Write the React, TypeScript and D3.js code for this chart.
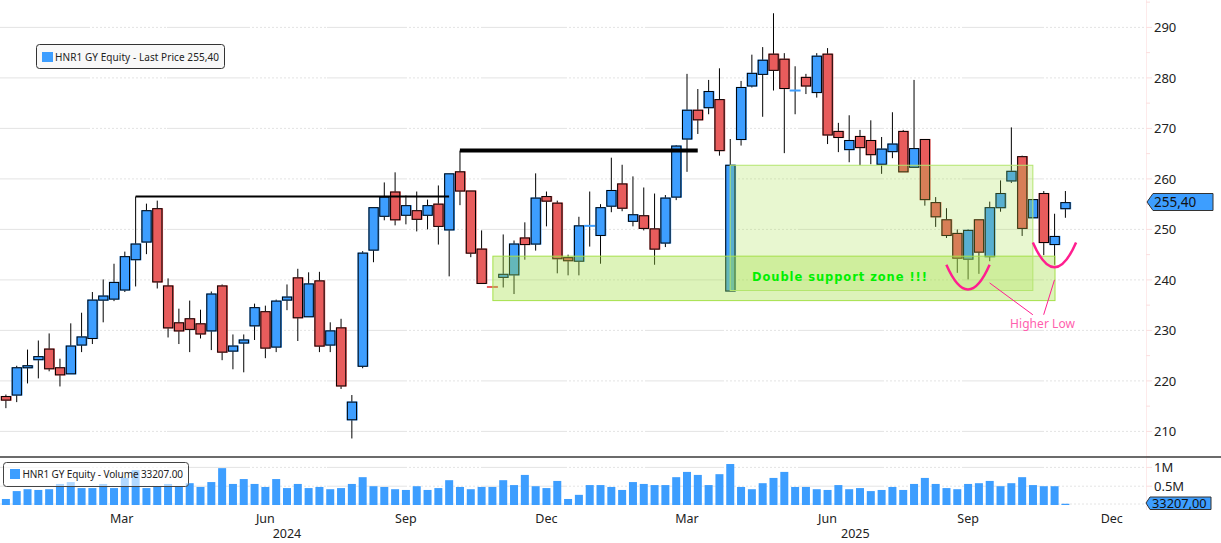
import * as d3 from 'd3';
import React from 'react';

const opens = [216.9, 217.2, 222.6, 224.2, 226.3, 222.6, 221.4, 227.1, 228.4, 236.0, 236.2, 238.0, 244.0, 247.5, 254.1, 238.8, 231.5, 232.3, 231.3, 229.9, 238.8, 225.9, 227.5, 230.9, 233.7, 226.7, 236.0, 240.4, 232.7, 239.8, 227.1, 230.5, 212.3, 222.9, 245.9, 252.6, 257.4, 252.8, 253.7, 252.8, 255.0, 249.9, 261.4, 257.6, 246.1, 238.7, 240.5, 241.0, 248.3, 247.1, 256.5, 255.2, 244.4, 243.7, 250.7, 248.8, 254.6, 259.0, 251.6, 252.7, 250.1, 247.3, 256.4, 267.9, 273.6, 274.1, 275.7, 237.8, 267.8, 278.4, 280.7, 284.7, 283.7, 277.5, 280.1, 277.1, 284.7, 269.4, 265.8, 268.4, 267.6, 262.9, 265.4, 269.4, 262.3, 267.8, 255.3, 251.9, 249.2, 244.1, 251.9, 244.6, 254.3, 259.6, 264.4, 252.3, 257.1, 247.0, 254.1];
const closes = [216.2, 222.6, 223.0, 224.8, 222.4, 221.2, 226.9, 228.7, 236.0, 236.8, 239.5, 244.6, 247.1, 253.7, 239.6, 230.5, 229.9, 230.2, 229.3, 237.2, 225.7, 226.9, 228.1, 234.5, 226.5, 235.8, 236.6, 232.5, 239.2, 226.9, 229.9, 219.0, 215.8, 245.3, 254.3, 256.4, 251.9, 254.7, 252.0, 254.7, 250.6, 261.0, 257.6, 245.3, 239.3, 238.6, 241.1, 247.1, 247.0, 256.2, 255.6, 244.2, 243.8, 250.7, 250.8, 254.3, 257.7, 254.2, 252.9, 250.2, 246.1, 256.2, 266.5, 273.6, 271.7, 277.3, 265.6, 262.7, 278.1, 280.9, 283.5, 281.5, 277.9, 277.6, 278.4, 284.3, 268.7, 268.2, 267.6, 266.2, 264.8, 265.9, 266.9, 261.4, 266.0, 255.9, 252.5, 248.8, 244.3, 249.8, 245.5, 254.3, 257.1, 261.5, 250.2, 255.9, 247.4, 248.6, 255.3];
const highs = [217.3, 223.0, 226.2, 228.0, 229.4, 224.4, 231.4, 233.5, 237.6, 240.1, 243.2, 245.6, 256.5, 255.1, 255.7, 240.3, 234.3, 235.9, 234.1, 237.7, 239.1, 229.2, 229.2, 235.3, 234.9, 236.1, 239.1, 242.2, 241.5, 241.6, 231.6, 232.3, 217.2, 245.7, 254.3, 259.3, 261.3, 256.7, 257.5, 255.9, 258.7, 261.0, 265.6, 257.6, 249.8, 238.7, 249.0, 247.8, 251.4, 261.1, 257.5, 255.7, 245.0, 252.5, 257.5, 255.0, 264.2, 262.8, 260.5, 258.3, 257.1, 256.8, 266.7, 280.8, 277.8, 279.6, 281.9, 267.9, 279.4, 284.6, 286.1, 292.8, 284.9, 282.3, 280.8, 284.9, 285.9, 271.1, 272.6, 269.7, 271.6, 268.3, 273.2, 269.7, 279.6, 267.8, 256.4, 254.2, 250.0, 250.0, 251.9, 255.5, 259.7, 270.2, 264.6, 255.9, 257.6, 253.1, 257.6];
const lows = [214.6, 215.8, 219.5, 220.5, 221.9, 218.9, 221.4, 225.7, 227.3, 231.6, 235.8, 237.6, 238.7, 245.1, 238.3, 228.6, 227.3, 225.7, 228.4, 226.1, 224.1, 222.3, 221.7, 228.1, 224.5, 225.7, 234.0, 227.9, 232.7, 225.7, 225.7, 218.4, 208.6, 222.5, 243.5, 251.8, 250.8, 251.0, 249.6, 250.0, 247.0, 240.7, 254.8, 244.5, 239.3, 238.5, 238.5, 237.2, 244.0, 245.8, 250.6, 241.3, 240.9, 240.9, 246.6, 243.2, 253.4, 253.6, 250.6, 249.8, 243.0, 246.5, 255.8, 261.4, 268.9, 272.8, 264.6, 237.8, 266.6, 278.1, 272.3, 277.5, 265.1, 272.8, 276.8, 276.1, 266.9, 265.3, 263.3, 262.7, 262.9, 261.0, 264.1, 261.4, 262.3, 254.7, 250.5, 248.3, 241.4, 240.1, 241.2, 243.7, 253.5, 259.2, 248.7, 252.3, 244.9, 243.0, 252.3];
const volumes = [0.16, 0.37, 0.42, 0.40, 0.42, 0.56, 0.61, 0.45, 0.45, 0.56, 0.45, 0.72, 0.93, 0.45, 0.48, 0.56, 0.48, 0.58, 0.48, 0.61, 0.98, 0.56, 0.69, 0.56, 0.48, 0.69, 0.45, 0.56, 0.45, 0.48, 0.42, 0.45, 0.56, 0.74, 0.50, 0.48, 0.42, 0.40, 0.50, 0.40, 0.45, 0.66, 0.48, 0.42, 0.48, 0.48, 0.66, 0.53, 0.80, 0.50, 0.45, 0.64, 0.16, 0.27, 0.53, 0.53, 0.48, 0.40, 0.61, 0.56, 0.53, 0.53, 0.74, 0.88, 0.80, 0.53, 0.82, 1.09, 0.48, 0.42, 0.58, 0.72, 0.88, 0.48, 0.48, 0.42, 0.40, 0.53, 0.42, 0.45, 0.37, 0.40, 0.48, 0.40, 0.56, 0.72, 0.56, 0.45, 0.42, 0.56, 0.58, 0.64, 0.50, 0.58, 0.74, 0.53, 0.50, 0.50, 0.033];

const priceTicks = [210, 220, 230, 240, 250, 260, 270, 280, 290];
const minorTicks = [205, 215, 225, 235, 245, 255, 265, 275, 285, 295];
const volumeTicks = [{ v: 1, label: '1M' }, { v: 0.5, label: '0.5M' }];
const monthTicks = [
  { label: 'Mar', date: new Date(2024, 2, 1) },
  { label: 'Jun', date: new Date(2024, 5, 2) },
  { label: 'Sep', date: new Date(2024, 8, 1) },
  { label: 'Dec', date: new Date(2024, 11, 1) },
  { label: 'Mar', date: new Date(2025, 2, 2) },
  { label: 'Jun', date: new Date(2025, 5, 1) },
  { label: 'Sep', date: new Date(2025, 7, 31) },
  { label: 'Dec', date: new Date(2025, 11, 2) },
];
const yearTicks = [
  { label: '2024', date: new Date(2024, 5, 16) },
  { label: '2025', date: new Date(2025, 5, 19) },
];

const lastPrice = '255,40';
const lastVolume = '33207,00';

const BLUE = '#3d9eff';
const RED = '#e85c5c';
const GRID = '#e4e4e4';
const FONT = '"Noto Sans", sans-serif';
const WIDTH = 1221;
const HEIGHT = 543;

const firstWeek = new Date(2023, 11, 17);
const dates = opens.map((_, i) => d3.timeWeek.offset(firstWeek, i));

const xScale = d3.scaleTime().domain([dates[0], dates[98]]).range([5.9, 1065.4]);
const yScale = d3.scaleLinear().domain([210, 290]).range([431.4, 27.4]);
const volScale = d3.scaleLinear().domain([0, 1]).range([505, 467.4]);

// grid alternates solid and dashed stretches every 80px or so
const gridBreaks = [0, 88, 167, 248, 327, 405, 483, 565, 645, 722, 800, 882, 962, 1042, 1146];

const GridLine = ({ y }: { y: number }) => (
  <g>
    {gridBreaks.slice(0, -1).map((x0, i) => (
      <line
        key={i}
        x1={x0}
        x2={gridBreaks[i + 1]}
        y1={y}
        y2={y}
        stroke={GRID}
        strokeWidth={1}
        strokeDasharray={i % 2 === 0 ? undefined : '2 2'}
      />
    ))}
  </g>
);

const indexX = (i: number) => xScale(dates[0]) + i * 10.81;

const curve = (i0: number, i1: number, top: number, bottom: number) => {
  const x0 = indexX(i0);
  const x1 = indexX(i1);
  const path = d3.path();
  path.moveTo(x0, yScale(top));
  path.quadraticCurveTo((x0 + x1) / 2, 2 * yScale(bottom) - yScale(top), x1, yScale(top));
  return path.toString();
};

export default function App() {
  return (
    <svg
      width={WIDTH}
      height={HEIGHT}
      style={{ position: 'absolute', left: 0, top: 0, background: '#fff' }}
      fontFamily={FONT}
    >
      {priceTicks.map((t) => (
        <GridLine key={t} y={yScale(t)} />
      ))}
      {volumeTicks.map((t) => (
        <GridLine key={t.v} y={volScale(t.v)} />
      ))}
      <GridLine y={volScale(0) - 1} />

      {/* candles */}
      {opens.map((o, i) => {
        const c = closes[i];
        const x = xScale(dates[i]);
        const color = c >= o ? BLUE : RED;
        const top = yScale(Math.max(o, c));
        const bot = yScale(Math.min(o, c));
        const flat = bot - top < 1.5;
        return (
          <g key={i}>
            <line x1={x} x2={x} y1={yScale(highs[i])} y2={yScale(lows[i])} stroke="#000" strokeWidth={1} />
            {flat ? (
              <rect x={x - 5.5} y={top - 0.5} width={11} height={2} fill={color} />
            ) : (
              <g>
                <rect x={x - 5.2} y={top - 0.6} width={11} height={bot - top + 1.2} fill={color} />
                <rect x={x - 4.5} y={top} width={9.2} height={bot - top} fill={color} stroke="#000" strokeWidth={1} />
              </g>
            )}
          </g>
        );
      })}

      {/* resistance lines */}
      <line x1={indexX(12)} x2={indexX(41)} y1={yScale(256.5)} y2={yScale(256.5)} stroke="#000" strokeWidth={2} />
      <line x1={indexX(42)} x2={indexX(64)} y1={yScale(265.6)} y2={yScale(265.6)} stroke="#000" strokeWidth={4} />

      {/* support zones */}
      <rect
        x={indexX(45.05)}
        y={yScale(244.7)}
        width={indexX(97.05) - indexX(45.05)}
        height={yScale(235.9) - yScale(244.7)}
        fill="#a5e04a"
        fillOpacity={0.38}
        stroke="#a5e04a"
        strokeWidth={1}
      />
      <rect
        x={indexX(67)}
        y={yScale(262.7)}
        width={indexX(95) - indexX(67)}
        height={yScale(237.9) - yScale(262.7)}
        fill="#a5e04a"
        fillOpacity={0.26}
        stroke="#b4e56f"
        strokeWidth={1}
      />
      <text
        x={752}
        y={280.5}
        fontFamily='"DejaVu Sans", sans-serif'
        fontWeight="bold"
        fontSize={11.5}
        fill="#00f000"
        textLength={175}
      >
        Double support zone !!!
      </text>

      {/* higher low marks */}
      <path d={curve(87, 91, 243.0, 238.1)} fill="none" stroke="#ff1f8f" strokeWidth={2.5} />
      <path d={curve(95, 99, 247.4, 242.5)} fill="none" stroke="#ff1f8f" strokeWidth={2.5} />
      <line x1={indexX(91)} x2={indexX(95)} y1={yScale(239.4)} y2={yScale(233.1)} stroke="#ff1f8f" strokeWidth={1} />
      <line x1={indexX(97)} x2={indexX(96)} y1={yScale(240)} y2={yScale(233.1)} stroke="#ff1f8f" strokeWidth={1} />
      <text x={1010} y={328} fontSize={12} fill="#ff5fae" textLength={65}>Higher Low</text>

      {/* price legend */}
      <rect x={36.5} y={44.5} width={188} height={24} rx={3} fill="#f8f8f8" stroke="#333" strokeWidth={1} />
      <rect x={42} y={52} width={11} height={10} fill={BLUE} />
      <text x={55} y={61} fontSize={10} fill="#222" textLength={164}>HNR1 GY Equity - Last Price {lastPrice}</text>

      {/* price axis */}
      <line x1={1146.5} x2={1146.5} y1={0} y2={456} stroke="#fdeaea" />
      {priceTicks.map((t) => (
        <g key={t}>
          <line x1={1146} x2={1152} y1={yScale(t)} y2={yScale(t)} stroke="#fbdede" />
          <text x={1154} y={yScale(t) + 5} fontSize={13} fill="#222">{t}</text>
        </g>
      ))}
      {minorTicks.map((t) => (
        <line key={t} x1={1146} x2={1150} y1={yScale(t)} y2={yScale(t)} stroke="#fbdede" />
      ))}
      <polygon points="1147,202 1153,193.5 1213,193.5 1213,210.5 1153,210.5" fill={BLUE} stroke="#333" />
      <text x={1154} y={207} fontSize={13.5} fill="#111">{lastPrice}</text>

      {/* divider */}
      <line x1={0} x2={WIDTH} y1={457} y2={457} stroke="#3a3a3a" strokeWidth={1.6} />

      {/* volume */}
      {volumes.map((v, i) => (
        <rect
          key={i}
          x={xScale(dates[i]) - 4}
          y={volScale(v)}
          width={8}
          height={volScale(0) - volScale(v)}
          fill={BLUE}
        />
      ))}
      <rect x={3.5} y={462.5} width={185} height={24} rx={3} fill="#fff" fillOpacity={0.6} stroke="#444" strokeWidth={1} />
      <rect x={10} y={469} width={10} height={10} fill={BLUE} />
      <text x={22.5} y={478} fontSize={10} fill="#222" textLength={160.5}>HNR1 GY Equity - Volume 33207.00</text>

      {/* volume axis */}
      <line x1={1146.5} x2={1146.5} y1={458} y2={510} stroke="#fdeaea" />
      {volumeTicks.map((t) => (
        <g key={t.v}>
          <line x1={1146} x2={1152} y1={volScale(t.v)} y2={volScale(t.v)} stroke="#fbdede" />
          <text x={1154} y={volScale(t.v) + 5} fontSize={13} fill="#222">{t.label}</text>
        </g>
      ))}
      <polygon points="1146,503 1150,497 1211,497 1211,509.5 1150,509.5" fill={BLUE} stroke="#333" />
      <text x={1152} y={508} fontSize={12.8} fill="#111">{lastVolume}</text>

      {/* time axis */}
      {monthTicks.map((t, i) => (
        <text key={i} x={xScale(t.date)} y={522.5} textAnchor="middle" fontSize={12.5} fill="#222">{t.label}</text>
      ))}
      {yearTicks.map((t) => (
        <text key={t.label} x={xScale(t.date)} y={538} textAnchor="middle" fontSize={12.5} fill="#222">{t.label}</text>
      ))}
    </svg>
  );
}
